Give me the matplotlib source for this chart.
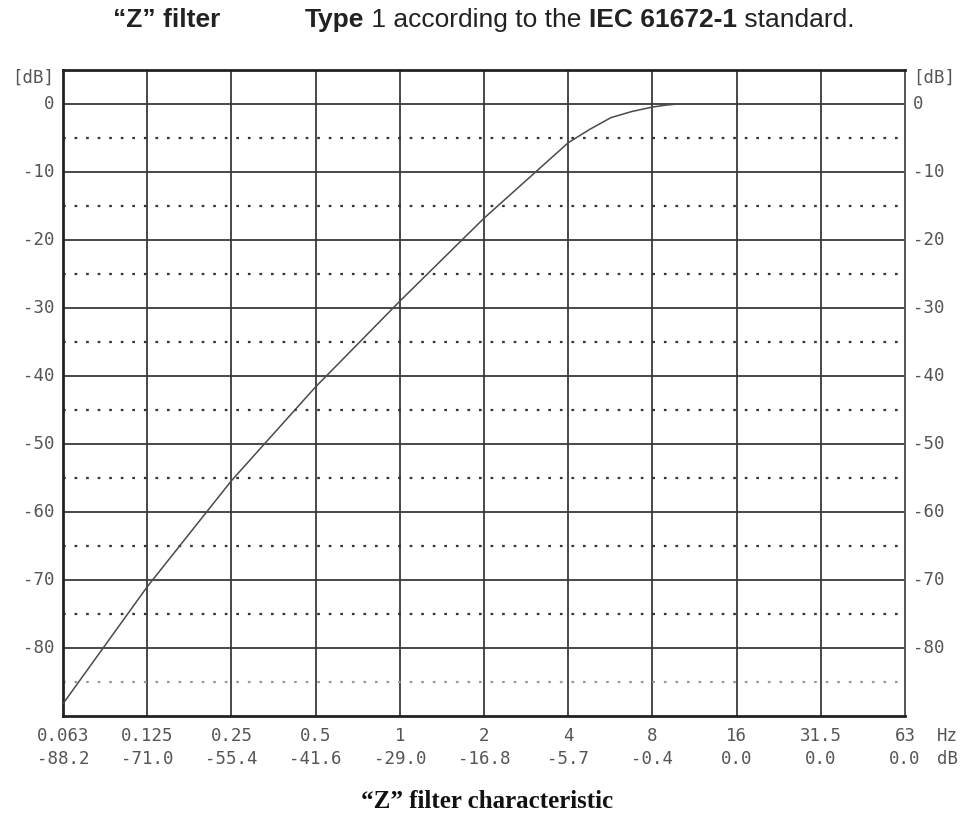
import matplotlib
matplotlib.use("Agg")
import matplotlib.pyplot as plt
from matplotlib.ticker import NullFormatter, NullLocator

# octave band centres (nominal labels and exact positions) and Z-filter response
freq_labels = ["0.063", "0.125", "0.25", "0.5", "1", "2", "4", "8", "16", "31.5", "63"]
freq_values = [0.0625, 0.125, 0.25, 0.5, 1, 2, 4, 8, 16, 32, 64]
level_labels = ["-88.2", "-71.0", "-55.4", "-41.6", "-29.0", "-16.8", "-5.7", "-0.4", "0.0", "0.0", "0.0"]

# curve
curve_f = [0.0625, 0.125, 0.25, 0.5, 1, 2, 4, 4.79, 5.69, 6.76, 8, 9, 9.85]
curve_db = [-88.2, -71.0, -55.4, -41.6, -29.0, -16.8, -5.7, -3.7, -2.0, -1.1, -0.45, -0.15, 0.0]

major_db = [0, -10, -20, -30, -40, -50, -60, -70, -80]
minor_db = [-5, -15, -25, -35, -45, -55, -65, -75, -85]

fig = plt.figure(figsize=(9.68, 8.18), dpi=100)
ax = fig.add_axes([63 / 968, 1 - 716 / 818, 842 / 968, 646 / 818])

ax.set_xscale("log", base=2)
ax.set_xlim(freq_values[0], freq_values[-1])
ax.set_ylim(-90, 5)
ax.xaxis.set_major_locator(NullLocator())
ax.xaxis.set_minor_locator(NullLocator())
ax.xaxis.set_major_formatter(NullFormatter())
ax.xaxis.set_minor_formatter(NullFormatter())
ax.set_yticks([])

# grid
for f in freq_values[1:-1]:
    ax.axvline(f, color="#3a3a3a", lw=1.3, zorder=1)
for d in major_db:
    ax.axhline(d, color="#3a3a3a", lw=1.3, zorder=1)
for d in minor_db:
    c = "#9a9a9a" if d == -85 else "#333333"
    ax.axhline(d, color=c, lw=1.6, ls=(0, (1.2, 4.0)), zorder=1)

ax.plot(curve_f, curve_db, color="#4a4a4a", lw=1.1, zorder=3)

for side in ["left", "bottom", "top"]:
    ax.spines[side].set_linewidth(2.0)
    ax.spines[side].set_color("#222222")
ax.spines["right"].set_linewidth(1.4)
ax.spines["right"].set_color("#555555")

mono = dict(family="DejaVu Sans Mono", fontsize=12.5, color="#555555")

# y labels left and right
for d in major_db:
    ax.annotate(str(d), xy=(0, d), xycoords=("axes fraction", "data"), xytext=(-9, 0),
                textcoords="offset pixels", ha="right", va="center", **mono)
    ax.annotate(str(d), xy=(1, d), xycoords=("axes fraction", "data"), xytext=(8, 0),
                textcoords="offset pixels", ha="left", va="center", **mono)
ax.annotate("[dB]", xy=(0, 1), xycoords="axes fraction", xytext=(-9, -8),
            textcoords="offset pixels", ha="right", va="center", **mono)
ax.annotate("[dB]", xy=(1, 1), xycoords="axes fraction", xytext=(8, -8),
            textcoords="offset pixels", ha="left", va="center", **mono)

# x labels: frequency row and level row
for f, fl, ll in zip(freq_values, freq_labels, level_labels):
    ax.annotate(fl, xy=(f, 0), xycoords=("data", "axes fraction"), xytext=(0, -20),
                textcoords="offset pixels", ha="center", va="center", **mono)
    ax.annotate(ll, xy=(f, 0), xycoords=("data", "axes fraction"), xytext=(0, -43),
                textcoords="offset pixels", ha="center", va="center", **mono)
ax.annotate("Hz", xy=(1, 0), xycoords="axes fraction", xytext=(32, -20),
            textcoords="offset pixels", ha="left", va="center", **mono)
ax.annotate("dB", xy=(1, 0), xycoords="axes fraction", xytext=(32, -43),
            textcoords="offset pixels", ha="left", va="center", **mono)

# top heading, pieces with mixed weights
sans = ["Liberation Sans", "DejaVu Sans"]
fig.text(220 / 968, 1 - 20 / 818, "\u201cZ\u201d filter", family=sans, fontsize=19,
         fontweight="bold", color="#222222", ha="right", va="center")
pieces = [("Type", "bold"), (" 1 according to the ", "normal"), ("IEC 61672-1", "bold"),
          (" standard.", "normal")]
fig.canvas.draw()
renderer = fig.canvas.get_renderer()
x = 305
for s, w in pieces:
    t = fig.text(x / 968, 1 - 20 / 818, s, family=sans, fontsize=19, fontweight=w,
                 color="#222222", ha="left", va="center")
    x += t.get_window_extent(renderer).width

fig.text(487 / 968, 1 - 802 / 818, "\u201cZ\u201d filter characteristic", family="Liberation Serif",
         fontsize=18, fontweight="bold", color="#111111", ha="center", va="center")

fig.savefig("out.png", dpi=100)
